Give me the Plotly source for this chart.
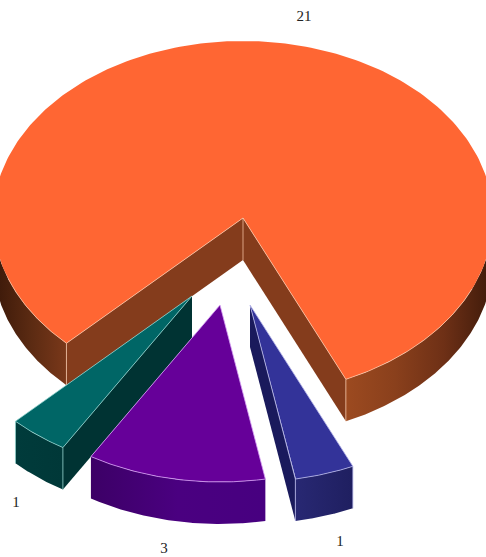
import numpy as np
import plotly.graph_objects as go

# Slice values and their printed labels, clockwise from the large slice
values = [21, 1, 3, 1]
labels = ["21", "1", "3", "1"]

# Pie projection (page units, y grows downward)
CX, CY, RX, RY, DEPTH = 243, 218, 250, 177, 42
START_DEG = 24.3
EXPLODE = [(0, 0), (-51, 78), (-23, 87), (7, 87)]
LABEL_XY = [(304, 17), (16, 503), (164, 549), (340, 542)]

TOP = ["#FF6633", "#006666", "#660099", "#333399"]
WALL = ["#843C1C", "#003333", "#3F0066", "#1A1A5C"]
EDGE = ["rgba(255,205,175,0.7)", "rgba(150,215,210,0.75)",
        "rgba(215,160,245,0.8)", "rgba(185,185,235,0.8)"]
# Horizontal shading of the curved rim, one scale per visible rim section
RIM = [
    [["#9C4A20", "#8A401C", "#6E3016", "#3E1A0A"],
     ["#3A1809", "#5A2A12", "#7A381A"]],
    [["#003B3B", "#003838"]],
    [["#3C0066", "#4A0080", "#470080"]],
    [["#282873", "#1F1F60"]],
]


def scale(colors):
    return [[i / (len(colors) - 1), c] for i, c in enumerate(colors)]


def rim_point(theta, off, drop=0):
    t = np.radians(theta)
    return CX + off[0] + RX * np.sin(t), CY + off[1] + drop + RY * np.cos(t)


def polygon(fig, xs, ys, color=None, colors=None):
    kw = {"fillcolor": color} if colors is None else {
        "fillgradient": dict(type="horizontal", colorscale=scale(colors))}
    fig.add_trace(go.Scatter(x=list(xs), y=list(ys), mode="lines", fill="toself",
                             line=dict(width=0), hoverinfo="skip", **kw))


def stroke(fig, xs, ys, color):
    fig.add_trace(go.Scatter(x=list(xs), y=list(ys), mode="lines",
                             line=dict(color=color, width=1), hoverinfo="skip"))


def front_sections(a, b):
    """Parts of the arc a..b (degrees) that face the viewer, split at the sides."""
    cuts = [a] + [k for k in (90, 270, 450) if a < k < b] + [b]
    return [(p, q) for p, q in zip(cuts, cuts[1:])
            if np.cos(np.radians((p + q) / 2)) > 0]


fig = go.Figure()
total = sum(values)
angle = START_DEG

for i, v in enumerate(values):
    a, b = angle, angle + v / total * 360
    angle = b
    off = EXPLODE[i]
    apex = (CX + off[0], CY + off[1])
    arc = np.linspace(a, b, 240)
    ax, ay = rim_point(arc, off)

    # Flat side walls, kept only when they turn toward the viewer
    for theta, sign in ((a, 1), (b, -1)):
        ex, ey = rim_point(theta, off)
        dx, dy = ex - apex[0], ey - apex[1]
        if sign * dx > 0:
            polygon(fig, [apex[0], ex, ex, apex[0]],
                    [apex[1], ey, ey + DEPTH, apex[1] + DEPTH], color=WALL[i])

    # Curved rim
    for section, colors in zip(front_sections(a, b), RIM[i]):
        s = np.linspace(section[0], section[1], 120)
        tx, ty = rim_point(s, off)
        bx, by = rim_point(s[::-1], off, DEPTH)
        polygon(fig, np.r_[tx, bx], np.r_[ty, by], colors=colors)

    # Top face
    polygon(fig, np.r_[apex[0], ax], np.r_[apex[1], ay], color=TOP[i])

    # Highlight lines along the visible edges
    ex_a, ey_a = rim_point(a, off)
    ex_b, ey_b = rim_point(b, off)
    stroke(fig, [ex_b, apex[0], ex_a], [ey_b, apex[1], ey_a], EDGE[i])
    for section in front_sections(a, b):
        lo, hi = section
        if i == 0:
            # the big slice's highlight fades out toward its sides
            lo, hi = (lo, lo + 42) if lo < 90 else (hi - 25, hi)
        lx, ly = rim_point(np.linspace(lo, hi, 80), off)
        stroke(fig, lx, ly, EDGE[i])
    for x0, y0 in ((ex_a, ey_a), (ex_b, ey_b)):
        if i != 2:
            stroke(fig, [x0, x0], [y0, y0 + DEPTH], EDGE[i])
    if i == 0:
        stroke(fig, [apex[0], apex[0]], [apex[1], apex[1] + DEPTH], EDGE[i])

fig.add_trace(go.Scatter(
    x=[p[0] for p in LABEL_XY], y=[p[1] for p in LABEL_XY], text=labels,
    mode="text", textposition="middle center", hoverinfo="skip",
    textfont=dict(family="Liberation Serif", size=15, color="#222222")))

fig.update_layout(
    width=486, height=557, autosize=False, showlegend=False,
    margin=dict(l=0, r=0, t=0, b=0),
    paper_bgcolor="white", plot_bgcolor="white",
    xaxis=dict(range=[0, 486], visible=False, fixedrange=True),
    yaxis=dict(range=[557, 0], visible=False, fixedrange=True),
)
fig.write_html("out.html", config=dict(displayModeBar=False))
